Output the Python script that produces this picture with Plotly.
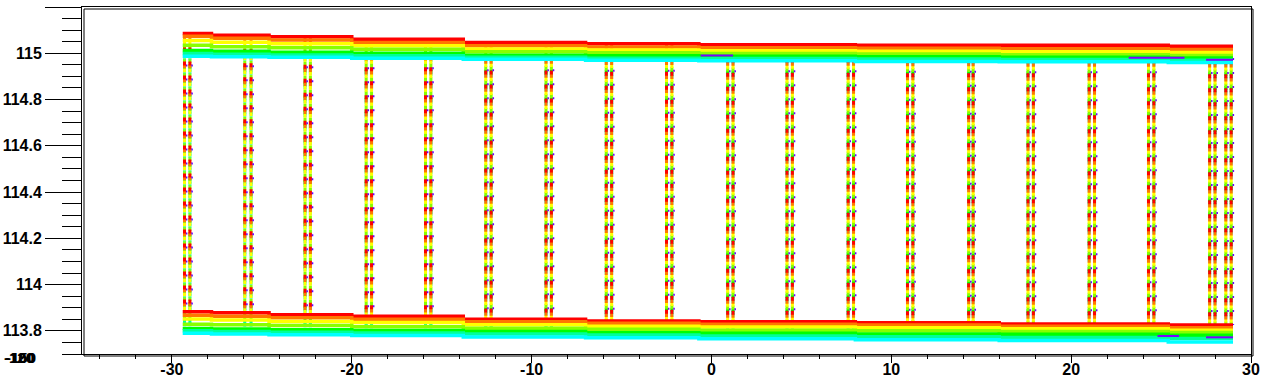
import plotly.graph_objects as go

# ---------------- data ----------------
# x positions where the stepped horizontal lines change level
x_knots = [-29.4, -27.8, -24.6, -20.0, -13.8, -7.0, -0.7, 8.0, 16.0, 25.4]
x_end = 29.0

# upper band (one list per colour)
top_red = [115.086, 115.078, 115.071, 115.061, 115.047, 115.041, 115.037, 115.035, 115.035, 115.030]
top_orange = [115.074, 115.065, 115.057, 115.047, 115.033, 115.027, 115.024, 115.022, 115.020, 115.016]
top_yellow = [115.055, 115.048, 115.041, 115.033, 115.019, 115.014, 115.011, 115.009, 115.007, 115.003]
top_chartreuse = [115.035, 115.028, 115.024, 115.017, 115.007, 115.002, 114.999, 114.997, 114.994, 114.990]
top_green = [115.012, 115.009, 115.005, 115.000, 114.992, 114.989, 114.987, 114.985, 114.983, 114.980]
top_spring = [114.999, 114.996, 114.993, 114.989, 114.983, 114.979, 114.977, 114.975, 114.973, 114.970]
top_cyan = [114.987, 114.985, 114.983, 114.979, 114.974, 114.970, 114.968, 114.965, 114.963, 114.960]

# lower band
bot_red = [113.883, 113.878, 113.870, 113.863, 113.850, 113.843, 113.839, 113.835, 113.830, 113.825]
bot_orange = [113.868, 113.863, 113.857, 113.850, 113.839, 113.833, 113.829, 113.825, 113.820, 113.814]
bot_yellow = [113.851, 113.847, 113.841, 113.836, 113.826, 113.820, 113.817, 113.813, 113.809, 113.803]
bot_chartreuse = [113.829, 113.826, 113.823, 113.818, 113.811, 113.807, 113.803, 113.800, 113.797, 113.793]
bot_green = [113.810, 113.808, 113.805, 113.802, 113.797, 113.792, 113.790, 113.787, 113.785, 113.781]
bot_spring = [113.800, 113.797, 113.794, 113.791, 113.786, 113.782, 113.778, 113.775, 113.771, 113.767]
bot_cyan = [113.790, 113.787, 113.783, 113.780, 113.774, 113.770, 113.766, 113.762, 113.758, 113.752]

# x of the vertical dashed lines (two per station)
station_left = [-29.3, -25.95, -22.6, -19.2, -15.9, -12.55, -9.2, -5.85, -2.5, 0.9,
                4.2, 7.6, 10.9, 14.3, 17.6, 21.0, 24.3, 27.7, 28.6]
station_right = [-29.0, -25.6, -22.3, -18.9, -15.6, -12.25, -8.9, -5.55, -2.2, 1.2,
                 4.5, 7.9, 11.2, 14.55, 17.9, 21.3, 24.6, 28.0, 28.9]

# short violet segments (x0, x1, y)
violet_segments_x0 = [-0.6, 23.2, 27.5, 24.8, 27.5]
violet_segments_x1 = [1.2, 26.3, 29.0, 26.0, 29.0]
violet_segments_y = [114.990, 114.981, 114.972, 113.778, 113.772]

color_names = ['red', 'orange', 'yellow', 'chartreuse', 'green', 'spring', 'cyan']
color_values = ['#FF0000', '#FF7700', '#FFFF00', '#88FF00', '#00FF00', '#00FF99', '#00FFFF']
top_series = [top_red, top_orange, top_yellow, top_chartreuse, top_green, top_spring, top_cyan]
bot_series = [bot_red, bot_orange, bot_yellow, bot_chartreuse, bot_green, bot_spring, bot_cyan]

y_tick_vals = [113.8, 114.0, 114.2, 114.4, 114.6, 114.8, 115.0, 115.2]
y_tick_text = ['113.8', '114', '114.2', '114.4', '114.6', '114.8', '115', '115.2']
x_tick_vals = [-30, -20, -10, 0, 10, 20, 30]
x_tick_text = ['-30', '-20', '-10', '0', '10', '20', '30']

# ---------------- figure ----------------
def step_value(series, x):
    idx = 0
    for i, k in enumerate(x_knots):
        if k <= x:
            idx = i
    return series[idx]

fig = go.Figure()
stations = station_left + station_right

# vertical dashed lines, one trace per colour (red drawn last, on top)
for name, col, top, bot in list(zip(color_names, color_values, top_series, bot_series))[::-1]:
    xs, ys = [], []
    for s in stations:
        xs += [s, s, None]
        ys += [step_value(top, s), step_value(bot, s), None]
    fig.add_trace(go.Scatter(x=xs, y=ys, mode='lines', name=name + ' v',
                             line=dict(color=col, width=3, dash='4px,10px'),
                             hoverinfo='skip', showlegend=False))

# thin violet dashes on the right edge of the verticals
xs, ys = [], []
for s in stations:
    xs += [s + 0.12, s + 0.12, None]
    ys += [step_value(top_green, s), step_value(bot_red, s), None]
fig.add_trace(go.Scatter(x=xs, y=ys, mode='lines', line=dict(color='#6A00FF', width=1.5, dash='2px,12px'),
                         hoverinfo='skip', showlegend=False))

# stepped horizontal bands
for name, col, top, bot in zip(color_names, color_values, top_series, bot_series):
    for series, part in ((top, 'top'), (bot, 'bottom')):
        fig.add_trace(go.Scatter(x=x_knots + [x_end], y=series + [series[-1]], mode='lines',
                                 line=dict(color=col, width=3.5, shape='hv'),
                                 name=name + ' ' + part, hoverinfo='skip', showlegend=False))

# violet segments
xs, ys = [], []
for a, b, y in zip(violet_segments_x0, violet_segments_x1, violet_segments_y):
    xs += [a, b, None]
    ys += [y, y, None]
fig.add_trace(go.Scatter(x=xs, y=ys, mode='lines', line=dict(color='#7F00FF', width=2),
                         hoverinfo='skip', showlegend=False))

W, H = 1261, 377
ml, mr, mt, mb = 82, 10, 7, 23
pw, ph = W - ml - mr, H - mt - mb
dx, dy = 2 / pw, 2 / ph

tick_font = dict(family='Liberation Sans, Arial, sans-serif', size=16, color='black', weight='bold')

fig.update_layout(
    width=W, height=H,
    margin=dict(l=ml, r=mr, t=mt, b=mb, pad=0, autoexpand=False),
    paper_bgcolor='white', plot_bgcolor='white',
    showlegend=False,
    xaxis=dict(range=[-35, 30.0001], showgrid=False, zeroline=False, automargin=False,
               showline=True, linecolor='black', linewidth=1, mirror=True,
               tickmode='array', tickvals=x_tick_vals, ticktext=x_tick_text,
               ticks='outside', ticklen=8, tickwidth=1, tickcolor='black',
               tickfont=tick_font, ticklabelstandoff=-7,
               minor=dict(tickmode='linear', tick0=0, dtick=2, ticks='outside',
                          ticklen=4, tickwidth=1, tickcolor='black', showgrid=False)),
    yaxis=dict(range=[113.7, 115.2001], showgrid=False, zeroline=False, automargin=False,
               showline=True, linecolor='black', linewidth=1, mirror=True,
               tickmode='array', tickvals=y_tick_vals, ticktext=y_tick_text,
               ticks='outside', ticklen=36, tickwidth=1, tickcolor='black',
               tickfont=tick_font,
               minor=dict(tickmode='linear', tick0=113.7, dtick=0.05, ticks='outside',
                          ticklen=19, tickwidth=1, tickcolor='black', showgrid=False)),
    shapes=[dict(type='rect', xref='paper', yref='paper',
                 x0=dx, x1=1 + dx, y0=-dy, y1=1 - dy,
                 line=dict(color='black', width=1), fillcolor='rgba(0,0,0,0)')],
)

# overlapping stray labels in the lower-left corner
for txt, off in (('-100', 0), ('-150', 1), ('-120', -1)):
    fig.add_annotation(text=txt, xref='paper', yref='paper',
                       x=(20 + off - ml) / pw, y=-(357 - (H - mb)) / ph,
                       xanchor='center', yanchor='middle', showarrow=False,
                       font=dict(family='Liberation Sans, Arial, sans-serif', size=15,
                                 color='black', weight='bold'))

fig.write_html('out.html', config={'displayModeBar': False},
               post_script="document.body.style.margin='0';document.body.style.overflow='hidden';")
